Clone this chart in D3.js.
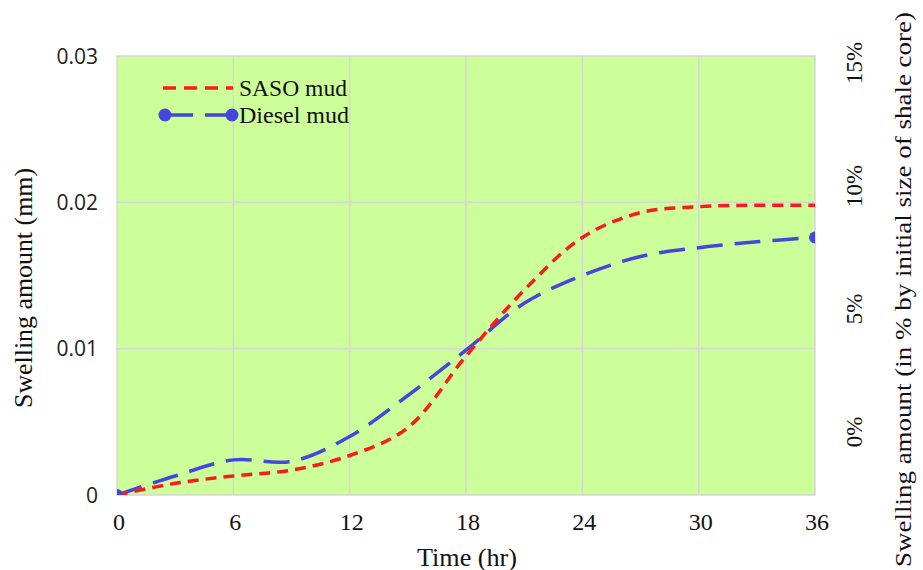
<!DOCTYPE html>
<html>
<head>
<meta charset="utf-8">
<title>Swelling amount</title>
<script src="https://cdnjs.cloudflare.com/ajax/libs/d3/7.8.5/d3.min.js"></script>
<style>
  body { margin: 0; background: #fff; }
  svg { display: block; }
  .serif { font-family: "Times New Roman", "Liberation Serif", Times, serif; fill: #111; }
  .sans { font-family: "Open Sans", "Liberation Sans", sans-serif; fill: #222; }
</style>
</head>
<body>
<div id="chart"></div>
<script>
// time in hours
var hours = [0, 3, 6, 9, 12, 15, 18, 21, 24, 27, 30, 33, 36];
// swelling amount in mm
var sasoMud = [0, 0.0008, 0.0013, 0.0017, 0.0027, 0.0046, 0.0095, 0.0140, 0.0176, 0.0193, 0.0197, 0.0198, 0.0198];
var dieselMud = [0, 0.0013, 0.0024, 0.0023, 0.0040, 0.0068, 0.0099, 0.0131, 0.0150, 0.0163, 0.0169, 0.0173, 0.0176];

var xTicks = [0, 6, 12, 18, 24, 30, 36];
var yTicks = [0, 0.01, 0.02, 0.03];
var yTickLabels = ["0", "0.01", "0.02", "0.03"];
var rightTicks = [0, 0.05, 0.10, 0.15];
var rightTickLabels = ["0%", "5%", "10%", "15%"];

var width = 923, height = 570;
var margin = {top: 56, right: 108, bottom: 75, left: 117};
var plotW = width - margin.left - margin.right;
var plotH = height - margin.top - margin.bottom;

var svg = d3.select('#chart').append('svg')
    .attr('width', width)
    .attr('height', height);

var x = d3.scaleLinear().domain([0, 36]).range([margin.left, margin.left + plotW]);
var y = d3.scaleLinear().domain([0, 0.03]).range([margin.top + plotH, margin.top]);
// the % labels on the right are not lined up with the left gridlines
var yRight = d3.scaleLinear().domain([0, 0.15]).range([432, 63]);

// plot background
svg.append('rect')
    .attr('x', margin.left).attr('y', margin.top)
    .attr('width', plotW).attr('height', plotH)
    .attr('fill', '#ccff99');

// gridlines
svg.append('g').selectAll('line').data(xTicks.slice(1, -1)).enter().append('line')
    .attr('x1', d => x(d)).attr('x2', d => x(d))
    .attr('y1', margin.top).attr('y2', margin.top + plotH)
    .attr('stroke', '#d6d6d6').attr('stroke-width', 1.5);
svg.append('g').selectAll('line').data(yTicks.slice(1, -1)).enter().append('line')
    .attr('x1', margin.left).attr('x2', margin.left + plotW)
    .attr('y1', d => y(d)).attr('y2', d => y(d))
    .attr('stroke', '#d6d6d6').attr('stroke-width', 1.5);

// border
svg.append('rect')
    .attr('x', margin.left).attr('y', margin.top)
    .attr('width', plotW).attr('height', plotH)
    .attr('fill', 'none').attr('stroke', '#d6d6d6').attr('stroke-width', 1.5);

// left tick labels
svg.append('g').selectAll('text').data(yTicks).enter().append('text')
    .attr('class', 'sans')
    .attr('x', margin.left - 19)
    .attr('y', d => y(d))
    .attr('dy', '0.36em')
    .attr('text-anchor', 'end')
    .style('font-size', '21px')
    .text((d, i) => yTickLabels[i]);

// x tick labels
svg.append('g').selectAll('text').data(xTicks).enter().append('text')
    .attr('class', 'serif')
    .attr('x', d => x(d) + 2)
    .attr('y', margin.top + plotH + 35)
    .attr('text-anchor', 'middle')
    .style('font-size', '24px')
    .text(d => d);

// right tick labels, rotated
svg.append('g').selectAll('text').data(rightTicks).enter().append('text')
    .attr('class', 'serif')
    .attr('transform', d => 'translate(862,' + yRight(d) + ') rotate(-90)')
    .attr('text-anchor', 'middle')
    .style('font-size', '23px')
    .text((d, i) => rightTickLabels[i]);

// axis titles
svg.append('text').attr('class', 'serif')
    .attr('x', 467).attr('y', 566)
    .attr('text-anchor', 'middle')
    .style('font-size', '25px')
    .attr('textLength', 100).attr('lengthAdjust', 'spacingAndGlyphs')
    .text('Time (hr)');

svg.append('text').attr('class', 'serif')
    .attr('transform', 'translate(32,288) rotate(-90)')
    .attr('text-anchor', 'middle')
    .style('font-size', '25px')
    .attr('textLength', 240).attr('lengthAdjust', 'spacingAndGlyphs')
    .text('Swelling amount (mm)');

svg.append('text').attr('class', 'serif')
    .attr('transform', 'translate(911,567) rotate(-90)')
    .attr('text-anchor', 'start')
    .style('font-size', '23px')
    .attr('textLength', 555).attr('lengthAdjust', 'spacingAndGlyphs')
    .text('Swelling amount (in % by initial size of shale core)');

// clip for lines and markers
svg.append('clipPath').attr('id', 'plot-clip')
    .append('rect')
    .attr('x', margin.left).attr('y', margin.top)
    .attr('width', plotW).attr('height', plotH);

var plot = svg.append('g').attr('clip-path', 'url(#plot-clip)');

var line = d3.line()
    .x(d => x(d[0]))
    .y(d => y(d[1]))
    .curve(d3.curveCatmullRom);

var sasoData = hours.map((h, i) => [h, sasoMud[i]]);
var dieselData = hours.map((h, i) => [h, dieselMud[i]]);

plot.append('path')
    .datum(dieselData)
    .attr('d', line)
    .attr('fill', 'none')
    .attr('stroke', '#4646dc')
    .attr('stroke-width', 3.5)
    .attr('stroke-dasharray', '26,12');

plot.append('path')
    .datum(sasoData)
    .attr('d', line)
    .attr('fill', 'none')
    .attr('stroke', '#ff1a1a')
    .attr('stroke-width', 3.5)
    .attr('stroke-dasharray', '11,7');

// diesel markers at the first and last points
plot.selectAll('circle').data([dieselData[0], dieselData[dieselData.length - 1]]).enter().append('circle')
    .attr('cx', d => x(d[0]))
    .attr('cy', d => y(d[1]))
    .attr('r', 6)
    .attr('fill', '#4646dc');

// legend
var legend = svg.append('g');
legend.append('line')
    .attr('x1', 163).attr('x2', 233).attr('y1', 88).attr('y2', 88)
    .attr('stroke', '#ff1a1a').attr('stroke-width', 3.5)
    .attr('stroke-dasharray', '13,8');
legend.append('text').attr('class', 'serif')
    .attr('x', 239).attr('y', 96)
    .style('font-size', '23px')
    .attr('textLength', 108).attr('lengthAdjust', 'spacingAndGlyphs')
    .text('SASO mud');

legend.append('line')
    .attr('x1', 165).attr('x2', 232).attr('y1', 115).attr('y2', 115)
    .attr('stroke', '#4646dc').attr('stroke-width', 3.5)
    .attr('stroke-dasharray', '28,12');
legend.selectAll('circle').data([165, 232]).enter().append('circle')
    .attr('cx', d => d).attr('cy', 115).attr('r', 6.5)
    .attr('fill', '#4646dc');
legend.append('text').attr('class', 'serif')
    .attr('x', 239).attr('y', 123)
    .style('font-size', '23px')
    .attr('textLength', 110).attr('lengthAdjust', 'spacingAndGlyphs')
    .text('Diesel mud');
</script>
</body>
</html>
